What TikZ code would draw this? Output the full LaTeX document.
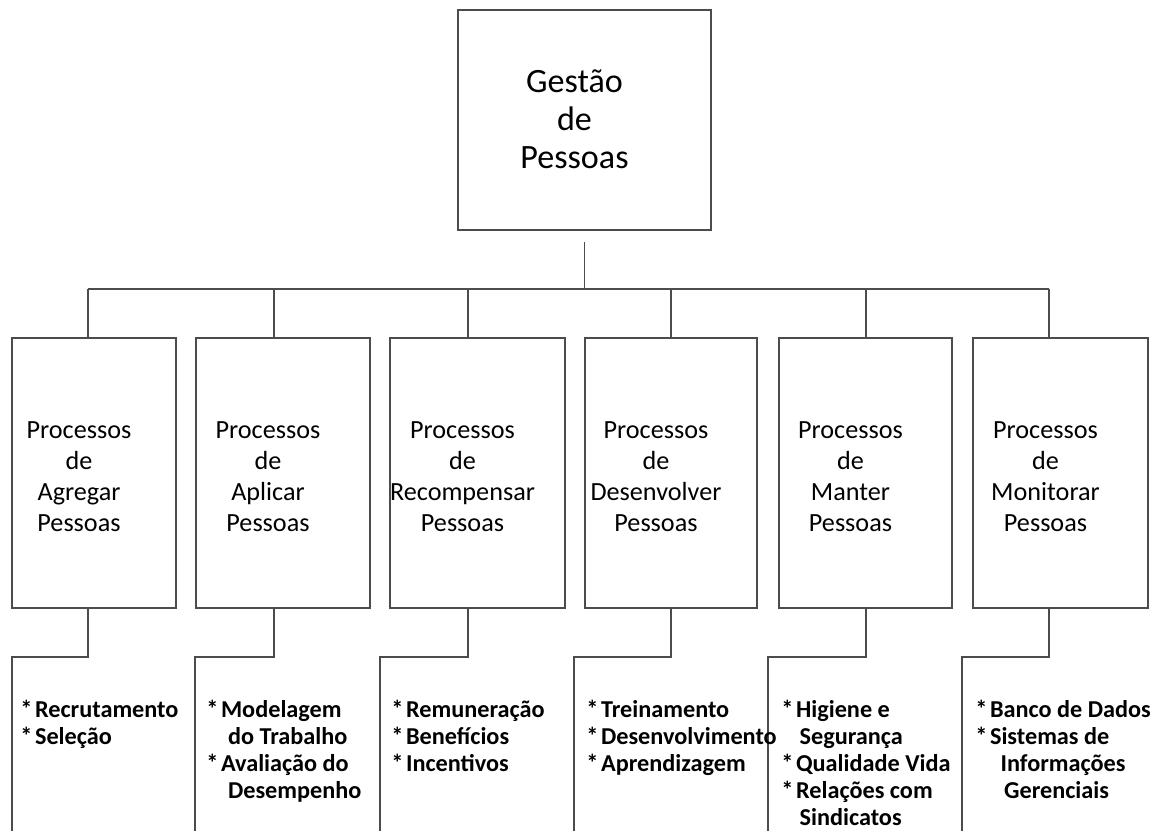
\documentclass[tikz,border=0pt]{standalone}
\usepackage{fontspec}
\setmainfont{Carlito}
\usetikzlibrary{positioning,calc}

\tikzset{
  box/.style={draw=black!70,line width=1.1pt,minimum height=5.4cm,inner sep=0pt,font=\fontsize{14.9}{17.6}\selectfont},
  link/.style={draw=black!70,line width=1.1pt},
  items/.style={anchor=base west,inner sep=0pt,font=\bfseries\fontsize{13.8}{15.4}\selectfont}
}

\begin{document}
\begin{tikzpicture}
\useasboundingbox (0,0) rectangle (23.06,-16.62);
\node[box,minimum width=5.06cm,minimum height=4.4cm,font=\fontsize{19.4}{21.5}\selectfont] (gestao) at (11.69,-2.4) {\begin{tabular}{@{}c@{\hspace{0.4cm}}}\noalign{\vskip0.12cm}Gestão\\de\\Pessoas\end{tabular}};
\foreach \n/\cx/\w/\dx/\lx/\word in {1/1.88/3.28/1.76/0.24/Agregar,2/5.66/3.48/5.48/3.9/Aplicar,3/9.55/3.46/9.36/7.6/Recompensar,4/13.42/3.44/13.42/11.48/Desenvolver,5/17.31/3.46/17.32/15.36/Manter,6/21.21/3.5/20.98/19.24/Monitorar}{
  \node[box,minimum width=\w cm] (p\n) at (\cx,-9.46) {\begin{tabular}{@{}c@{\hspace{0.6cm}}}\noalign{\vskip0.24cm}Processos\\de\\\word\\Pessoas\end{tabular}};
  \coordinate (b\n) at (\dx,-5.78);
  \coordinate (k\n) at (\lx,-13.14);
  \coordinate (e\n) at (\lx,-16.62);
  \draw[link] (b\n) -- (b\n |- p\n.north);
  \draw[link] (p\n.south -| b\n) -- (k\n -| b\n) -- (k\n) -- (e\n);
}
\draw[link] (b1) -- (b6);
\draw[link,shorten <=0.22cm] (gestao.south) -- (gestao.south |- b1);
% lists
\node[items] (l1) at ($(k1)+(0.16,-1.2)$) {\begin{tabular}[t]{@{}l@{\hspace{1.5pt}}l@{}}{*}&Recrutamento\\{*}&Seleção\end{tabular}};
\node[items] (l2) at ($(k2)+(0.22,-1.2)$) {\begin{tabular}[t]{@{}l@{\hspace{1.5pt}}l@{}}{*}&Modelagem\\&\hspace{4pt}do Trabalho\\{*}&Avaliação do\\&\hspace{4pt}Desempenho\end{tabular}};
\node[items] (l3) at ($(k3)+(0.22,-1.2)$) {\begin{tabular}[t]{@{}l@{\hspace{1.5pt}}l@{}}{*}&Remuneração\\{*}&Benefícios\\{*}&Incentivos\end{tabular}};
\node[items] (l4) at ($(k4)+(0.24,-1.2)$) {\begin{tabular}[t]{@{}l@{\hspace{1.5pt}}l@{}}{*}&Treinamento\\{*}&Desenvolvimento\\{*}&Aprendizagem\end{tabular}};
\node[items] (l5) at ($(k5)+(0.26,-1.2)$) {\begin{tabular}[t]{@{}l@{\hspace{1.5pt}}l@{}}{*}&Higiene e\\&\hspace{2pt}Segurança\\{*}&Qualidade Vida\\{*}&Relações com\\&\hspace{2pt}Sindicatos\end{tabular}};
\node[items] (l6) at ($(k6)+(0.26,-1.2)$) {\begin{tabular}[t]{@{}l@{\hspace{1.5pt}}l@{}}{*}&Banco de Dados\\{*}&Sistemas de\\&\hspace{6pt}Informações\\&\hspace{8pt}Gerenciais\end{tabular}};
\end{tikzpicture}
\end{document}
